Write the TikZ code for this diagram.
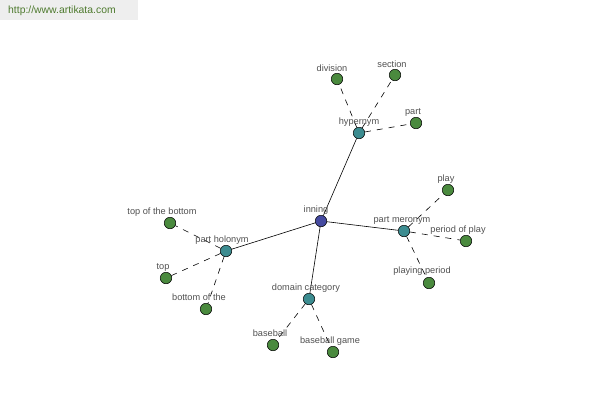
\documentclass[tikz,border=0pt]{standalone}
\usepackage{fontspec}
\setmainfont{Liberation Sans}
\definecolor{leafc}{HTML}{4A8A3E}
\definecolor{midc}{HTML}{3C8C90}
\definecolor{rootc}{HTML}{454AA0}
\definecolor{labc}{HTML}{505050}
\definecolor{bannerbg}{HTML}{EEEEEE}
\definecolor{bannertx}{HTML}{4E7A2E}
\begin{document}
\begin{tikzpicture}[x=1pt,y=-1pt,
  dot/.style={circle,draw=black,line width=0.5pt,minimum size=11.5pt,inner sep=0pt},
  leaf/.style={dot,fill=leafc},
  mid/.style={dot,fill=midc},
  root/.style={dot,fill=rootc},
  lab/.style={font=\fontsize{9.2}{10}\selectfont,text=labc,inner sep=0pt},
  solidedge/.style={draw=black,line width=0.6pt},
  dashedge/.style={draw=black,line width=0.6pt,dash pattern=on 6pt off 6pt}]
\useasboundingbox (0,0) rectangle (600,400);
\fill[bannerbg] (0,0) rectangle (138,20);
\node[font=\fontsize{10.4}{12}\selectfont,text=bannertx,anchor=west,inner sep=0pt] (banner) at (8,10.5) {http://www.artikata.com};

% nodes
\node[root] (inning) at (321,221) {};
\node[mid] (hyper) at (359,133) {};
\node[leaf] (division) at (337,79) {};
\node[leaf] (section) at (395,75) {};
\node[leaf] (part) at (416,123) {};
\node[mid] (mero) at (404,231) {};
\node[leaf] (play) at (448,190) {};
\node[leaf] (pop) at (466,241) {};
\node[leaf] (pp) at (429,283) {};
\node[mid] (holo) at (226,251) {};
\node[leaf] (totb) at (170,223) {};
\node[leaf] (top) at (166,278) {};
\node[leaf] (botof) at (206,309) {};
\node[mid] (dom) at (309,299) {};
\node[leaf] (bb) at (273,345) {};
\node[leaf] (bbg) at (333,352) {};

% edges
\draw[solidedge] (inning) -- (hyper);
\draw[solidedge] (inning) -- (mero);
\draw[solidedge] (inning) -- (holo);
\draw[solidedge] (inning) -- (dom);
\draw[dashedge] (hyper) -- (division);
\draw[dashedge] (hyper) -- (section);
\draw[dashedge] (hyper) -- (part);
\draw[dashedge] (mero) -- (play);
\draw[dashedge] (mero) -- (pop);
\draw[dashedge] (mero) -- (pp);
\draw[dashedge] (holo) -- (totb);
\draw[dashedge] (holo) -- (top);
\draw[dashedge] (holo) -- (botof);
\draw[dashedge] (dom) -- (bb);
\draw[dashedge] (dom) -- (bbg);

% labels
\node[lab] (l-inning) at (316,210) {inning};
\node[lab] (l-hyper) at (359,122) {hypernym};
\node[lab] (l-division) at (332,68) {division};
\node[lab] (l-section) at (392,64) {section};
\node[lab] (l-part) at (413,112) {part};
\node[lab] (l-mero) at (402,220) {part meronym};
\node[lab] (l-play) at (446,179) {play};
\node[lab] (l-pop) at (458,230) {period of play};
\node[lab] (l-pp) at (422,271) {playing period};
\node[lab] (l-holo) at (222,240) {part holonym};
\node[lab] (l-totb) at (162,212) {top of the bottom};
\node[lab] (l-top) at (163,267) {top};
\node[lab] (l-botof) at (199,297) {bottom of the};
\node[lab] (l-dom) at (306,288) {domain category};
\node[lab] (l-bb) at (270,333) {baseball};
\node[lab] (l-bbg) at (330,341) {baseball game};
\end{tikzpicture}
\end{document}
